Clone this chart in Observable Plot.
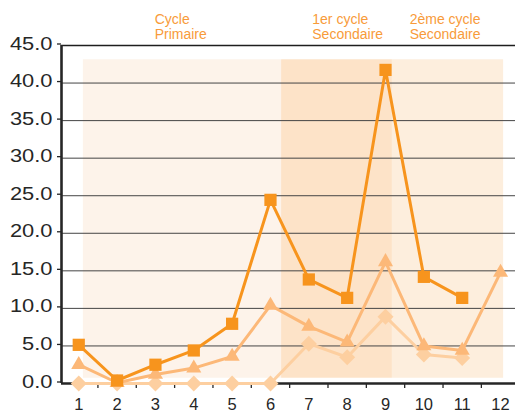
<!DOCTYPE html>
<html>
<head>
<meta charset="utf-8">
<script src="https://cdn.jsdelivr.net/npm/d3@7"></script>
<script src="https://cdn.jsdelivr.net/npm/@observablehq/plot@0.6"></script>
<style>
  html, body { margin: 0; padding: 0; background: #fff; }
  #chart svg { display: block; }
</style>
</head>
<body>
<div id="chart"></div>
<script>
// ---- data ----
const categories = [1, 2, 3, 4, 5, 6, 7, 8, 9, 10, 11, 12];
const seriesSquares   = [5.15, 0.4, 2.5, 4.4, 7.95, 24.45, 13.85, 11.4, 41.75, 14.2, 11.4, null];
const seriesTriangles = [2.5, 0.1, 1.2, 2.05, 3.6, 10.4, 7.6, 5.5, 16.2, 5.0, 4.4, 14.8];
const seriesDiamonds  = [0, 0, 0, 0, 0, 0, 5.3, 3.5, 8.9, 3.86, 3.4, null];
const cycleNames  = ["Cycle\nPrimaire", "1er cycle\nSecondaire", "2ème cycle\nSecondaire"];
const cycleStart  = [1.12, 6.29, 9.18];
const cycleEnd    = [6.29, 9.18, 12.08];
const cycleLabelAt = [2.98, 7.09, 9.63];
const cycleLow = 0.7, cycleHigh = 43.1;
const yTicks = [0, 5, 10, 15, 20, 25, 30, 35, 40, 45];
const tickBetween = [1.5, 2.5, 3.5, 4.5, 5.5, 6.5, 7.5, 8.5, 9.5, 10.5, 11.5];

// ---- tables built from arrays ----
const cycles = cycleNames.map((name, i) => ({name, x1: cycleStart[i], x2: cycleEnd[i], lx: cycleLabelAt[i]}));
const rowsOf = arr => categories.map((c, i) => ({x: c, y: arr[i]})).filter(d => d.y != null);
const sq = rowsOf(seriesSquares), tr = rowsOf(seriesTriangles), di = rowsOf(seriesDiamonds);

const bandFill = ["#fdf3ea", "#fde3c8", "#fdeedd"];
const cSq = "#f7941d", cTr = "#fcb878", cDi = "#fdcfa0";
const dark = "#262626";

const chart = Plot.plot({
  width: 515,
  height: 414,
  marginLeft: 61,
  marginRight: 0,
  marginTop: 45,
  marginBottom: 31,
  style: {fontFamily: "'Liberation Sans', Arial, sans-serif", color: dark, background: "#fff", overflow: "visible"},
  x: {domain: [0.55, 12.39], axis: null},
  y: {domain: [0, 45], axis: null},
  marks: [
    Plot.rect(cycles, {x1: "x1", x2: "x2", y1: cycleLow, y2: cycleHigh, fill: (d, i) => bandFill[i]}),
    Plot.ruleY(yTicks.filter(t => t > 0 && t < 45), {stroke: "#444", strokeWidth: 1}),
    Plot.ruleY([45], {stroke: "#1e1e1e", strokeWidth: 1.3}),
    Plot.axisY({ticks: yTicks, tickFormat: d3.format(".1f"), tickSize: 4, tickPadding: 5, fontSize: 17.5, label: null, stroke: dark, strokeWidth: 1.3, dy: -1.5}),
    Plot.axisX({ticks: categories, tickSize: 0, tickPadding: 15, fontSize: 16.5, label: null}),
    Plot.axisX({ticks: tickBetween, tickSize: 5, tickFormat: () => "", label: null, stroke: dark, strokeWidth: 1.3}),
    Plot.ruleX([0.55], {y1: 0, y2: 45, stroke: dark, strokeWidth: 2.6}),
    Plot.ruleY([0], {stroke: dark, strokeWidth: 2.5}),
    Plot.text(cycles, {x: "lx", text: "name", frameAnchor: "top", dy: -32, lineAnchor: "top", textAnchor: "start", fontSize: 14, lineHeight: 1.07, fill: "#f89b3a"}),
    Plot.line(di, {x: "x", y: "y", stroke: cDi, strokeWidth: 3}),
    Plot.dot(di, {x: "x", y: "y", symbol: "diamond2", r: 7.2, fill: cDi, stroke: "none"}),
    Plot.line(tr, {x: "x", y: "y", stroke: cTr, strokeWidth: 3}),
    Plot.dot(tr, {x: "x", y: "y", symbol: "triangle", r: 5.6, fill: cTr, stroke: "none"}),
    Plot.line(sq, {x: "x", y: "y", stroke: cSq, strokeWidth: 3}),
    Plot.dot(sq, {x: "x", y: "y", symbol: "square", r: 6.9, fill: cSq, stroke: "none"})
  ]
});
document.getElementById("chart").appendChild(chart);

// widen the y tick labels as in the reference
chart.querySelectorAll('g[aria-label="y-axis tick label"] text').forEach(t => {
  const tr0 = t.getAttribute("transform") || "";
  t.setAttribute("transform", tr0 + " scale(1.25,1)");
});
</script>
</body>
</html>
